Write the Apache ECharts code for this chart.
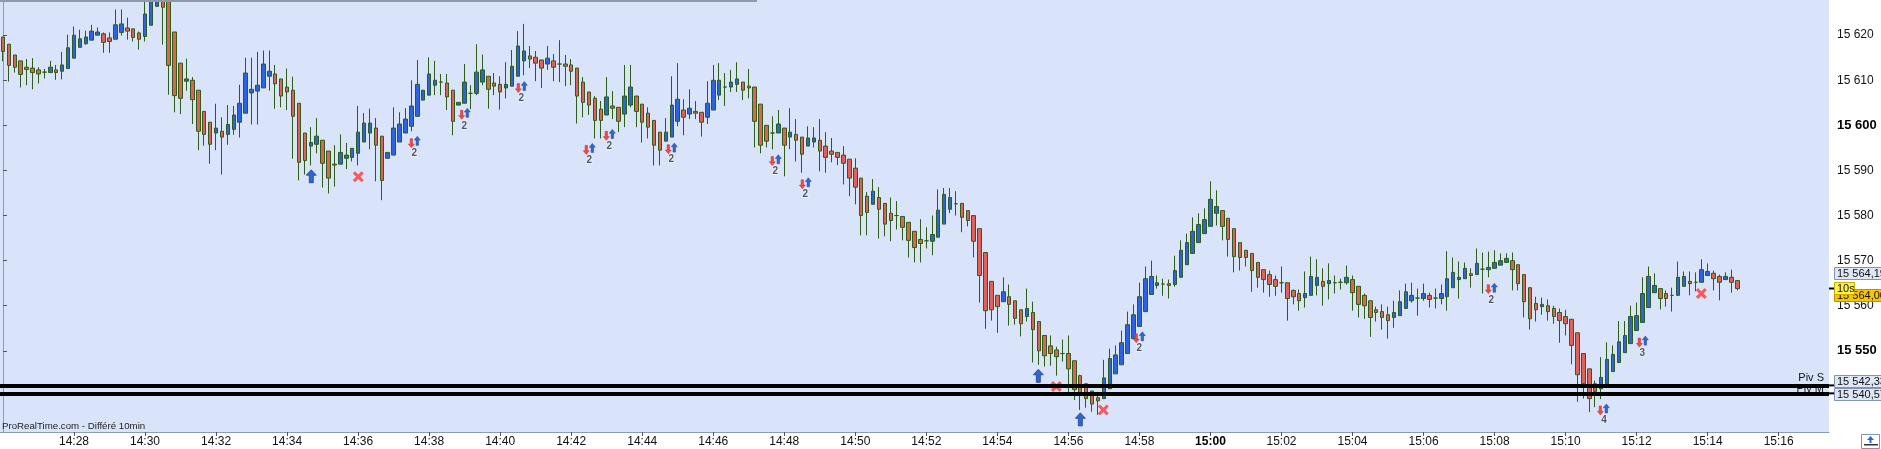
<!DOCTYPE html>
<html><head><meta charset="utf-8">
<script src="https://cdn.jsdelivr.net/npm/echarts@6/dist/echarts.min.js"></script>
<style>html,body{margin:0;padding:0;background:#fff;}#c{width:1881px;height:449px;}</style>
</head><body><div id="c"></div>
<script>
// ---- time slots (10 s candles) ----
const startTime = '14:26:00';
const stepSeconds = 10;
const slotCount = 309;

// ---- OHLC (one entry per 10 s candle, starting 14:26:00) ----
const opens = [15619.6,15618.0,15615.6,15614.3,15612.9,15612.7,15612.3,15611.8,15611.7,15612.3,15612.0,15612.6,15614.9,15617.3,15618.1,15618.9,15620.0,15620.3,15619.4,15619.1,15620.6,15621.6,15621.4,15620.5,15619.7,15622.2,15626.4,15628.5,15627.5,15620.7,
15613.8,15609.8,15610.0,15607.8,15603.1,15600.7,15598.3,15598.7,15598.0,15599.1,15600.7,15602.7,15607.2,15607.6,15608.3,15610.9,15611.4,15610.3,15608.5,15607.8,15604.9,15598.3,15595.4,15595.8,15596.7,15594.3,15591.4,15591.4,15592.7,15592.9,
15593.8,15596.3,15598.3,15599.4,15597.6,15592.7,15593.4,15596.3,15598.3,15599.8,15602.0,15605.6,15606.7,15608.9,15609.6,15609.4,15607.8,15604.5,15604.9,15607.1,15607.1,15609.6,15610.9,15609.4,15609.1,15608.3,15608.7,15610.9,15614.3,15615.4,
15615.1,15614.5,15613.6,15614.3,15613.6,15613.6,15613.4,15612.7,15609.6,15607.4,15606.0,15603.6,15602.3,15604.3,15604.0,15602.5,15604.5,15606.5,15604.7,15602.7,15601.1,15598.5,15596.5,15597.4,15600.9,15603.4,15602.5,15603.1,15602.9,15601.8,
15603.4,15606.7,15608.5,15608.5,15609.1,15609.6,15608.7,15608.5,15604.7,15600.0,15598.3,15598.3,15599.4,15597.4,15598.0,15597.4,15595.4,15596.3,15596.7,15595.4,15594.3,15594.0,15593.4,15592.5,15590.5,15588.3,15584.3,15582.5,15584.0,15582.7,
15580.5,15580.0,15579.8,15578.5,15576.5,15574.7,15574.4,15574.3,15575.2,15578.1,15581.4,15582.6,15582.7,15581.1,15580.0,15577.1,15571.8,15565.4,15562.3,15560.9,15562.0,15561.1,15559.1,15557.6,15558.5,15556.5,15553.4,15551.1,15550.2,15549.4,
15549.4,15547.8,15544.5,15542.7,15541.1,15539.6,15539.4,15541.6,15544.9,15546.9,15549.4,15552.7,15555.4,15558.7,15562.5,15564.5,15564.8,15564.9,15564.7,15566.3,15569.1,15571.6,15574.0,15576.0,15577.6,15580.5,15581.1,15579.4,15577.1,15574.0,
15572.3,15571.6,15569.6,15568.0,15566.9,15565.8,15565.1,15565.1,15563.4,15562.7,15561.8,15562.3,15564.5,15565.4,15564.9,15565.1,15565.2,15565.1,15565.8,15564.3,15562.3,15561.1,15559.1,15558.7,15558.0,15557.4,15557.8,15559.4,15561.1,15561.7,
15561.6,15562.3,15561.7,15561.6,15562.0,15564.0,15565.8,15566.0,15567.1,15566.9,15568.1,15568.0,15568.3,15569.0,15569.6,15570.0,15569.1,15566.9,15564.0,15560.5,15559.8,15560.0,15559.4,15558.5,15557.6,15557.0,15554.0,15549.4,15546.0,15542.7,
15541.6,15542.7,15545.4,15547.4,15549.6,15551.6,15554.5,15556.3,15559.6,15562.9,15563.8,15562.7,15562.3,15562.3,15564.3,15565.4,15565.2,15565.2,15566.7,15567.2,15566.5,15565.8,15566.3,15565.6];
const closes = [15616.4,15613.3,15612.9,15611.3,15612.4,15611.7,15611.4,15611.8,15612.9,15611.7,15613.4,15617.2,15620.0,15619.2,15619.6,15620.9,15620.7,15618.4,15618.6,15622.3,15622.5,15620.9,15619.5,15619.1,15624.7,15628.3,15629.5,15626.2,15613.3,15606.6,
15606.0,15610.3,15605.7,15598.7,15598.0,15595.8,15599.4,15597.4,15600.2,15602.3,15604.9,15611.6,15608.0,15608.9,15613.6,15612.0,15609.2,15606.5,15607.4,15602.0,15591.8,15592.2,15596.2,15597.6,15591.6,15588.3,15591.2,15594.0,15593.4,15594.9,
15598.5,15600.5,15600.5,15595.6,15587.8,15594.0,15599.4,15600.3,15601.4,15604.3,15609.1,15607.8,15611.4,15610.0,15609.6,15606.3,15600.9,15605.1,15609.6,15607.1,15611.8,15612.3,15608.0,15608.7,15607.4,15609.1,15613.1,15617.6,15616.5,15614.7,
15613.8,15612.7,15614.9,15612.9,15613.6,15613.1,15612.0,15606.5,15605.1,15604.5,15601.1,15601.1,15606.3,15603.8,15600.9,15606.5,15608.5,15603.1,15600.7,15599.6,15595.6,15594.5,15598.5,15604.5,15605.8,15601.8,15603.8,15602.7,15600.7,15604.9,
15610.0,15610.0,15608.5,15609.6,15610.3,15607.8,15608.3,15600.9,15595.6,15596.5,15598.3,15600.3,15595.6,15598.5,15596.7,15593.6,15597.2,15597.2,15594.3,15592.9,15593.6,15592.9,15591.6,15588.3,15586.3,15580.0,15580.7,15585.4,15581.4,15578.1,
15578.9,15580.0,15577.4,15574.5,15572.9,15573.8,15574.4,15575.8,15581.2,15584.7,15584.0,15582.6,15579.6,15578.9,15574.3,15566.7,15558.9,15559.1,15559.8,15563.1,15560.3,15557.2,15556.0,15559.4,15554.7,15550.0,15548.9,15549.4,15548.7,15549.4,
15546.0,15541.4,15540.7,15539.4,15538.2,15538.9,15544.0,15548.3,15549.1,15551.8,15555.8,15558.0,15562.0,15566.0,15566.5,15565.1,15564.8,15564.5,15567.8,15572.3,15574.0,15576.5,15578.0,15579.1,15583.6,15582.0,15577.6,15574.7,15570.9,15570.7,
15570.7,15567.8,15566.3,15565.8,15564.7,15564.3,15565.1,15561.6,15562.0,15561.1,15562.7,15566.5,15566.3,15564.3,15565.6,15565.1,15565.2,15566.3,15562.9,15560.3,15560.0,15557.4,15558.5,15557.4,15556.7,15558.5,15560.9,15563.1,15562.3,15561.7,
15562.7,15561.4,15561.7,15562.7,15566.0,15567.4,15566.3,15568.3,15566.7,15569.4,15568.1,15568.5,15569.6,15570.0,15570.5,15568.0,15564.9,15560.9,15557.1,15559.1,15560.3,15558.7,15557.6,15556.7,15556.0,15551.2,15544.7,15542.7,15539.4,15541.0,
15544.1,15548.1,15549.2,15552.0,15553.4,15557.6,15557.8,15562.7,15566.5,15564.5,15561.6,15561.6,15562.3,15566.3,15566.5,15564.9,15565.2,15568.0,15567.6,15566.0,15565.2,15566.5,15565.2,15563.8];
const lows = [15614.2,15609.7,15611.7,15608.4,15608.9,15608.0,15609.3,15610.4,15611.7,15610.1,15610.2,15612.6,15614.9,15617.3,15617.9,15618.9,15620.0,15616.1,15616.1,15619.1,15619.9,15619.0,15618.6,15616.8,15618.6,15622.2,15626.4,15617.9,15606.8,15602.9,
15602.5,15607.7,15600.3,15594.5,15595.5,15591.5,15594.5,15589.1,15595.7,15597.9,15597.3,15602.7,15600.2,15600.2,15608.3,15607.7,15603.7,15604.0,15603.4,15592.6,15587.8,15589.1,15591.1,15593.8,15586.2,15584.9,15586.4,15591.4,15590.3,15592.0,
15591.1,15596.3,15594.7,15587.6,15583.4,15592.7,15593.4,15596.3,15598.3,15598.7,15602.0,15605.6,15606.7,15606.7,15606.7,15603.4,15597.8,15604.5,15604.9,15603.6,15606.7,15608.9,15603.7,15606.7,15603.5,15606.0,15608.7,15610.9,15611.1,15612.7,
15609.8,15608.3,15612.3,15609.8,15609.6,15608.7,15608.9,15600.4,15601.8,15602.3,15597.1,15597.1,15602.3,15601.4,15598.5,15599.6,15604.0,15599.6,15596.2,15597.1,15591.1,15591.1,15596.5,15597.4,15599.8,15597.8,15601.4,15601.4,15597.5,15600.3,
15603.4,15605.6,15604.3,15607.4,15607.4,15605.6,15606.0,15595.1,15593.8,15595.1,15594.7,15598.3,15588.7,15594.7,15592.0,15589.5,15595.4,15595.1,15589.8,15589.5,15591.8,15591.2,15586.9,15584.3,15582.5,15575.6,15575.6,15582.5,15574.9,15575.4,
15574.3,15576.9,15574.5,15570.7,15569.6,15569.6,15572.7,15571.2,15575.2,15578.1,15580.5,15580.0,15576.3,15577.6,15570.7,15560.7,15554.9,15556.7,15554.0,15560.9,15555.6,15555.8,15553.2,15556.5,15547.4,15546.9,15546.5,15546.7,15544.5,15547.6,
15540.9,15539.1,15536.9,15537.4,15536.5,15535.8,15539.4,15541.6,15544.9,15546.9,15549.4,15552.7,15555.4,15558.7,15562.5,15563.8,15562.2,15561.6,15564.2,15566.3,15569.1,15571.6,15574.0,15576.0,15577.6,15577.8,15574.5,15570.9,15567.4,15567.8,
15568.7,15563.1,15564.0,15562.9,15562.0,15562.2,15562.9,15556.7,15560.3,15558.9,15559.6,15562.3,15562.3,15560.0,15561.4,15562.7,15563.6,15564.7,15558.9,15557.4,15557.1,15553.1,15556.5,15554.7,15552.7,15555.1,15557.8,15559.4,15560.7,15557.8,
15561.1,15559.6,15559.4,15560.3,15558.9,15564.0,15561.6,15566.0,15564.0,15566.9,15562.7,15566.3,15568.3,15569.0,15569.6,15563.4,15563.4,15557.4,15554.7,15556.5,15558.0,15556.7,15556.0,15551.8,15553.4,15547.0,15538.7,15539.4,15536.4,15537.5,
15539.3,15542.7,15545.4,15547.4,15549.6,15551.6,15554.5,15556.3,15559.6,15562.9,15559.2,15559.8,15558.7,15562.3,15564.3,15562.3,15563.2,15565.2,15566.7,15563.4,15561.2,15565.8,15562.9,15563.4];
const highs = [15619.6,15618.0,15615.6,15614.3,15614.7,15614.9,15612.9,15612.5,15614.3,15613.4,15616.3,15620.1,15621.9,15621.2,15621.0,15622.3,15621.7,15620.6,15620.6,15625.7,15625.7,15623.9,15621.4,15620.8,15627.5,15629.5,15631.0,15630.0,15628.5,15620.7,
15613.8,15614.8,15610.7,15607.8,15603.1,15600.7,15604.8,15601.8,15604.5,15604.3,15609.0,15615.0,15615.0,15616.3,15616.6,15616.6,15613.4,15610.3,15612.6,15610.8,15604.9,15598.3,15599.6,15601.6,15596.7,15594.3,15595.6,15598.0,15596.1,15594.9,
15604.3,15602.7,15603.7,15601.6,15597.6,15594.0,15604.0,15602.9,15603.8,15610.0,15614.5,15607.8,15615.1,15614.3,15611.4,15611.4,15607.8,15605.1,15613.6,15608.9,15618.0,15615.7,15610.9,15611.6,15610.9,15614.0,15616.7,15620.9,15622.5,15617.6,
15616.5,15614.5,15617.6,15615.8,15618.9,15615.6,15614.7,15612.7,15610.7,15607.4,15606.5,15605.4,15610.7,15607.6,15604.0,15613.4,15613.4,15606.5,15604.7,15604.0,15601.1,15598.5,15601.6,15610.9,15613.8,15605.8,15608.0,15605.4,15602.9,15609.8,
15613.4,15613.8,15611.6,15612.3,15614.0,15609.6,15612.5,15608.5,15604.7,15600.0,15602.0,15603.4,15599.4,15603.8,15601.4,15597.4,15599.8,15599.6,15601.4,15598.5,15597.2,15594.0,15595.4,15592.5,15592.7,15588.3,15585.2,15588.1,15586.3,15582.7,
15584.0,15583.2,15579.8,15578.5,15576.5,15579.2,15577.4,15580.0,15585.8,15586.1,15586.1,15585.4,15582.7,15581.1,15580.0,15577.1,15571.8,15565.4,15562.3,15566.3,15564.7,15561.1,15559.1,15563.8,15560.9,15556.5,15553.4,15553.4,15550.9,15552.5,
15553.4,15547.8,15544.7,15542.7,15541.1,15540.9,15548.0,15550.5,15551.2,15554.5,15558.7,15560.3,15565.1,15568.7,15570.0,15566.7,15566.0,15565.8,15571.1,15574.5,15576.0,15579.6,15580.5,15581.6,15587.6,15585.6,15581.1,15579.4,15577.1,15574.0,
15572.3,15571.6,15569.6,15568.0,15567.8,15566.7,15568.7,15565.1,15563.6,15563.6,15567.6,15570.9,15570.3,15568.3,15569.4,15566.7,15566.0,15568.9,15566.7,15564.3,15562.7,15561.1,15559.8,15560.3,15559.8,15561.1,15563.4,15564.9,15565.1,15563.8,
15564.9,15562.9,15563.8,15564.7,15572.1,15570.7,15569.8,15569.6,15568.3,15572.7,15571.8,15572.0,15572.3,15571.6,15571.6,15571.8,15569.1,15566.9,15564.0,15562.0,15561.8,15561.4,15560.0,15559.4,15559.1,15557.0,15554.0,15549.4,15546.0,15543.4,
15548.6,15551.9,15551.2,15556.6,15556.6,15560.0,15560.7,15566.3,15568.7,15567.2,15563.8,15563.4,15564.0,15569.8,15567.6,15567.6,15567.4,15570.3,15569.4,15567.8,15566.9,15567.4,15568.0,15565.6];

// ---- levels / labels ----
const pivotLevels = [15542.33, 15540.57];
const pivotNames = ['Piv S', 'Piv M'];
const lastPrice = 15564.00;
const refPrice = 15564.19;
const yTicks = [15550, 15560, 15570, 15580, 15590, 15600, 15610, 15620];

// ---- signal markers: [candle position, price] ----
const bigUpArrows = [[52.09, 15588.71], [174.92, 15544.45], [182.02, 15534.8]];
const redCrosses = [[60.03, 15588.62], [177.96, 15542.1], [185.9, 15536.9], [286.93, 15562.71]];
const pairDown = [[69.0,15596.05],[77.5,15602.33],[87.07,15608.27],[98.55,15594.56],[101.93,15597.67],[112.41,15594.71],[129.98,15592.11],[135.05,15586.93],[191.47,15552.78],[250.95,15563.67],[269.87,15536.78],[276.46,15551.82]];
const pairUp = [[70.0,15596.56],[78.45,15602.78],[88.08,15608.71],[99.57,15595.0],[102.95,15598.11],[113.42,15595.07],[130.99,15592.49],[136.06,15587.38],[192.49,15553.22],[251.96,15564.0],[270.88,15537.22],[277.47,15552.27]];
const pairLabels = [[69.49,15593.82,'2'],[77.94,15599.89,'2'],[87.57,15606.05,'2'],[99.06,15592.18,'2'],[102.44,15595.29,'2'],[112.91,15592.49,'2'],[130.48,15589.73,'2'],[135.56,15584.62,'2'],[191.98,15550.49,'2'],[251.45,15561.22,'2'],[270.5,15534.56,'4'],[276.96,15549.51,'3']];

// ---- build ----
function buildCategories() {
  const [h, m, s] = startTime.split(':').map(Number);
  const base = h * 3600 + m * 60 + s;
  const out = [];
  for (let i = 0; i < slotCount; i++) {
    const t = base + i * stepSeconds;
    const hh = String(Math.floor(t / 3600)).padStart(2, '0');
    const mm = String(Math.floor(t / 60) % 60).padStart(2, '0');
    const ss = String(t % 60).padStart(2, '0');
    out.push(hh + ':' + mm + ':' + ss);
  }
  return out;
}
const categories = buildCategories();
const ohlc = opens.map((o, i) => [o, closes[i], lows[i], highs[i]]);

const FONT = '"Liberation Sans", Arial, Helvetica, sans-serif';
const fmtPrice = (v, dec) => {
  const s = dec ? v.toFixed(dec).replace('.', ',') : String(Math.round(v));
  return s.replace(/^(\d{2})(\d{3})/, '$1 $2');
};
const showTime = (idx) => idx > 0 && idx % 12 === 0;

const UP_ARROW = 'path://M5,0 L10,5 L7,5 L7,12 L3,12 L3,5 L0,5 Z';
const DOWN_ARROW = 'path://M3,0 L7,0 L7,7 L10,7 L5,12 L0,7 L3,7 Z';
const CROSS = 'path://M2,0 L5,3 L8,0 L10,2 L7,5 L10,8 L8,10 L5,7 L2,10 L0,8 L3,5 L0,2 Z';

const chart = echarts.init(document.getElementById('c'), null, { renderer: 'canvas' });
const option = {
  animation: false,
  backgroundColor: '#ffffff',
  grid: { left: 0, right: 52, top: 0, bottom: 17, show: true, backgroundColor: '#d9e4fb', borderWidth: 0 },
  xAxis: [{
    type: 'category', data: categories, boundaryGap: true,
    axisLine: { show: true, lineStyle: { color: '#8a9cb8', width: 1 } },
    axisTick: { show: true, interval: (i) => showTime(i), alignWithLabel: true, length: 4, lineStyle: { color: '#555' } },
    axisLabel: {
      interval: (i) => showTime(i), margin: 4, fontSize: 12, color: '#111', fontFamily: FONT,
      formatter: (v) => { const t = v.slice(0, 5); return t === '15:00' ? '{b|' + t + '}' : t; },
      rich: { b: { fontWeight: 'bold', fontSize: 12, color: '#000', fontFamily: FONT } }
    },
    splitLine: { show: false }
  }, {
    type: 'value', min: -0.5, max: slotCount - 0.5, show: false
  }],
  yAxis: [{
    type: 'value', position: 'right', min: 15532.0, max: 15627.8, scale: true,
    axisLine: { show: true, lineStyle: { color: '#8a9cb8', width: 1 } },
    axisTick: { show: true, length: 4, customValues: yTicks, lineStyle: { color: '#555' } },
    axisLabel: {
      customValues: yTicks, margin: 8, fontSize: 12, color: '#111', fontFamily: FONT,
      formatter: (v) => { const s = fmtPrice(v); return v % 50 === 0 ? '{b|' + s + '}' : s; },
      rich: { b: { fontWeight: 'bold', fontSize: 13, color: '#000', fontFamily: FONT } }
    },
    splitLine: { show: false }
  }],
  series: [
    {
      type: 'candlestick', data: ohlc, xAxisIndex: 0, yAxisIndex: 0, barWidth: 4, z: 2,
      itemStyle: { color: '#2b63e3', color0: '#df6159', borderColor: '#2e5d17', borderColor0: '#2e5d17', borderColorDoji: '#2e5d17', borderWidth: 1 }
    },
    {
      type: 'scatter', xAxisIndex: 1, yAxisIndex: 0, data: redCrosses, symbol: CROSS, symbolSize: [11, 11], z: 1,
      itemStyle: { color: '#f25c5c', opacity: 1 }
    },
    {
      type: 'scatter', xAxisIndex: 1, yAxisIndex: 0, data: [], z: 3, silent: true,
      markLine: {
        silent: true, symbol: ['none', 'none'], label: { show: false },
        lineStyle: { color: '#000', width: 4, type: 'solid' },
        data: pivotLevels.map(v => ({ yAxis: v }))
      }
    },
    {
      type: 'scatter', xAxisIndex: 1, yAxisIndex: 0, data: bigUpArrows, symbol: UP_ARROW, symbolSize: [10, 13], z: 4,
      itemStyle: { color: '#2f67d2', borderColor: '#1d3f8c', borderWidth: 0.8, opacity: 1 }
    },
    {
      type: 'scatter', xAxisIndex: 1, yAxisIndex: 0, data: pairDown, symbol: DOWN_ARROW, symbolSize: [6, 9], z: 4,
      itemStyle: { color: '#ef4848', borderColor: '#c63030', borderWidth: 0.5, opacity: 1 }
    },
    {
      type: 'scatter', xAxisIndex: 1, yAxisIndex: 0, data: pairUp, symbol: UP_ARROW, symbolSize: [6, 9], z: 4,
      itemStyle: { color: '#2f67d2', borderColor: '#1d3f8c', borderWidth: 0.5, opacity: 1 }
    },
    {
      type: 'scatter', xAxisIndex: 1, yAxisIndex: 0, data: pairLabels.map(d => ({ value: [d[0], d[1]], name: d[2] })),
      symbolSize: 0, z: 4,
      label: { show: true, position: 'inside', formatter: (p) => p.name, fontSize: 10, fontWeight: 'bold', color: '#2b2b3a', fontFamily: FONT, textBorderColor: 'rgba(255,255,255,0.7)', textBorderWidth: 1.5 }
    }
  ]
};
chart.setOption(option);

// ---- axis-side price boxes, positioned from the y scale ----
const yPx = (v) => chart.convertToPixel({ yAxisIndex: 0 }, v);
const axisRight = chart.convertToPixel({ xAxisIndex: 1 }, slotCount - 0.5);
function priceBox(v, dy, text, fill, stroke, w, z) {
  const cy = yPx(v) + dy;
  return {
    type: 'group', z: z || 20, children: [
      { type: 'rect', z: z || 20, shape: { x: axisRight + 5.5, y: Math.round(cy - 6) + 0.5, width: w, height: 12 }, style: { fill, stroke, lineWidth: 1 } },
      { type: 'text', z: (z || 20) + 1, style: { x: axisRight + 8, y: Math.round(cy) + 1, text, font: '11px ' + FONT, fill: '#111', textVerticalAlign: 'middle' } }
    ]
  };
}
const graphics = [
  { type: 'rect', z: 20, shape: { x: 0, y: 0, width: 757, height: 2 }, style: { fill: '#8e9aac' } },
  priceBox(refPrice, -14, fmtPrice(refPrice, 2), '#dfe7f7', '#8093b3', 60),
  priceBox(lastPrice, 7, fmtPrice(lastPrice, 2), '#f7c600', '#b89400', 60, 23),
  priceBox(lastPrice, 0, '10s', '#fff04a', '#c9ad00', 20, 26),
  { type: 'line', z: 20, shape: { x1: axisRight, y1: Math.round(yPx(lastPrice)) + 0.5, x2: axisRight + 5, y2: Math.round(yPx(lastPrice)) + 0.5 }, style: { stroke: '#000', lineWidth: 2 } },
  priceBox(pivotLevels[0], -4, fmtPrice(pivotLevels[0], 2), '#dfe7f7', '#8093b3', 60),
  priceBox(pivotLevels[1], 1, fmtPrice(pivotLevels[1], 2), '#dfe7f7', '#8093b3', 60),
  { type: 'line', z: 19, shape: { x1: axisRight, y1: yPx(pivotLevels[0]), x2: axisRight + 6, y2: yPx(pivotLevels[0]) }, style: { stroke: '#000', lineWidth: 2 } },
  { type: 'line', z: 19, shape: { x1: axisRight, y1: yPx(pivotLevels[1]), x2: axisRight + 6, y2: yPx(pivotLevels[1]) }, style: { stroke: '#000', lineWidth: 2 } },
  { type: 'text', z: 1, style: { x: axisRight - 5, y: yPx(pivotLevels[0]) - 7, text: pivotNames[0], font: '11px ' + FONT, fill: '#111', textAlign: 'right', textVerticalAlign: 'middle' } },
  { type: 'text', z: 1, style: { x: axisRight - 5, y: yPx(pivotLevels[1]) - 4, text: pivotNames[1], font: '11px ' + FONT, fill: '#111', textAlign: 'right', textVerticalAlign: 'middle' } },
  { type: 'text', z: 20, style: { x: 2, y: 426, text: 'ProRealTime.com - Différé 10min', font: '9.7px ' + FONT, fill: '#222', textVerticalAlign: 'middle' } },
  { type: 'rect', z: 20, shape: { x: 1861.5, y: 434.5, width: 18, height: 14 }, style: { fill: '#ffffff', stroke: '#8093b3', lineWidth: 1 } },
  { type: 'polygon', z: 21, shape: { points: [[1870.5, 436], [1874, 440], [1867, 440]] }, style: { fill: '#2f67d2' } },
  { type: 'rect', z: 21, shape: { x: 1869.5, y: 440, width: 2, height: 3 }, style: { fill: '#2f67d2' } },
  { type: 'rect', z: 21, shape: { x: 1864, y: 444, width: 14, height: 1.5 }, style: { fill: '#333' } }
];
chart.setOption({ graphic: graphics });
</script>
</body></html>
